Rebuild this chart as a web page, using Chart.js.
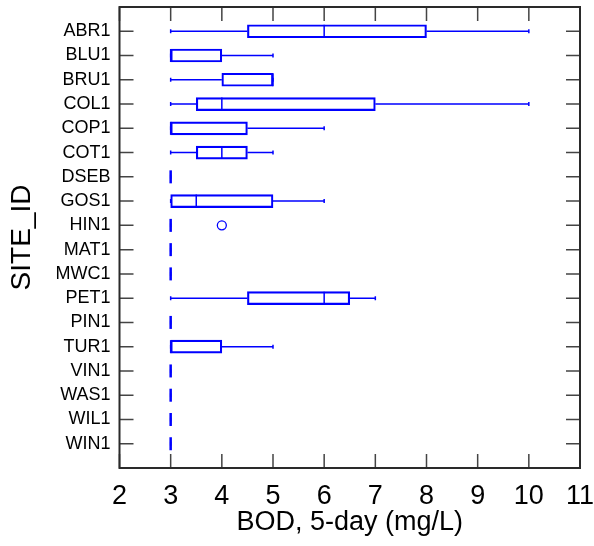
<!DOCTYPE html>
<html>
<head>
<meta charset="utf-8">
<script src="https://cdn.jsdelivr.net/npm/chart.js@4/dist/chart.umd.min.js"></script>
<style>
html,body{margin:0;padding:0;background:#fff;}
#wrap{width:594px;height:546px;position:relative;}
</style>
</head>
<body>
<div id="wrap"><canvas id="c" width="594" height="546"></canvas></div>
<script>
// ---- data ----
const sites = ['ABR1','BLU1','BRU1','COL1','COP1','COT1','DSEB','GOS1','HIN1','MAT1','MWC1','PET1','PIN1','TUR1','VIN1','WAS1','WIL1','WIN1'];
const whiskerLow  = [3,  3, 3, 3,   3,   3,   3, 3,   3, 3, 3, 3,   3, 3, 3, 3, 3, 3];
const q1Values    = [4.5,3, 4, 3.5, 3,   3.5, 3, 3,   3, 3, 3, 4.5, 3, 3, 3, 3, 3, 3];
const medians     = [6,  3, 5, 4,   3,   4,   3, 3.5, 3, 3, 3, 6,   3, 3, 3, 3, 3, 3];
const q3Values    = [8,  4, 5, 7,   4.5, 4.5, 3, 5,   3, 3, 3, 6.5, 3, 4, 3, 3, 3, 3];
const whiskerHigh = [10, 5, 5, 10,  6,   5,   3, 6,   3, 3, 3, 7,   3, 5, 3, 3, 3, 3];
const outlierSites  = ['HIN1'];
const outlierValues = [4];
const xTickValues = [2,3,4,5,6,7,8,9,10,11];

const BLUE = '#0000ff';
const FONT = "'Liberation Sans', Arial, sans-serif";

const boxData = sites.map((s,i)=>({y:i, x:[q1Values[i], q3Values[i]]}));
const outlierData = outlierSites.map((s,k)=>({y:sites.indexOf(s), x:outlierValues[k]}));

const boxPlugin = {
  id:'boxExtras',
  afterDatasetsDraw(chart){
    const ctx = chart.ctx, xs = chart.scales.x, ys = chart.scales.y;
    const half = 6.5, cap = 2;
    ctx.save();
    ctx.strokeStyle = BLUE;
    ctx.lineWidth = 1.5;
    sites.forEach((s,i)=>{
      const yc = ys.getPixelForValue(i);
      const xl = xs.getPixelForValue(whiskerLow[i]);
      const x1 = xs.getPixelForValue(q1Values[i]);
      const x3 = xs.getPixelForValue(q3Values[i]);
      const xh = xs.getPixelForValue(whiskerHigh[i]);
      const xm = xs.getPixelForValue(medians[i]);
      ctx.beginPath();
      if (x1 > xl) { ctx.moveTo(xl, yc); ctx.lineTo(x1, yc); }
      if (xh > x3) { ctx.moveTo(x3, yc); ctx.lineTo(xh, yc); }
      ctx.stroke();
      ctx.beginPath();
      ctx.moveTo(xl, yc-cap); ctx.lineTo(xl, yc+cap);
      ctx.moveTo(xh, yc-cap); ctx.lineTo(xh, yc+cap);
      ctx.stroke();
      ctx.beginPath();
      ctx.lineWidth = (x3 - x1 < 1) ? 2.5 : 1.5;
      ctx.moveTo(xm, yc-half); ctx.lineTo(xm, yc+half);
      ctx.stroke();
      ctx.lineWidth = 1.5;
    });
    ctx.restore();
  },
  afterDraw(chart){
    const ctx = chart.ctx, a = chart.chartArea, xs = chart.scales.x, ys = chart.scales.y;
    const tl = 14;
    ctx.save();
    ctx.strokeStyle = '#444';
    ctx.lineWidth = 1.5;
    ctx.beginPath();
    xs.ticks.forEach(t=>{
      const px = xs.getPixelForValue(t.value);
      ctx.moveTo(px, a.top); ctx.lineTo(px, a.top+tl);
      ctx.moveTo(px, a.bottom); ctx.lineTo(px, a.bottom-tl);
    });
    ys.ticks.forEach(t=>{
      const py = ys.getPixelForValue(t.value);
      ctx.moveTo(a.left, py); ctx.lineTo(a.left+tl, py);
      ctx.moveTo(a.right, py); ctx.lineTo(a.right-tl, py);
    });
    ctx.stroke();
    ctx.strokeStyle = '#2a2a2a';
    ctx.lineWidth = 2;
    ctx.strokeRect(a.left, a.top, a.right-a.left, a.bottom-a.top);
    ctx.restore();
  }
};

new Chart(document.getElementById('c'), {
  type:'bar',
  data:{
    datasets:[
      {type:'bar', data:boxData, backgroundColor:'rgba(0,0,0,0)', borderColor:BLUE, borderWidth:1.5, borderSkipped:false, barThickness:13},
      {type:'scatter', data:outlierData, pointRadius:4.5, pointBorderColor:BLUE, pointBackgroundColor:'rgba(0,0,0,0)', pointBorderWidth:1.3}
    ]
  },
  options:{
    indexAxis:'y',
    responsive:false,
    animation:false,
    devicePixelRatio:1,
    layout:{padding:{left:0, right:14, top:7, bottom:0}},
    plugins:{legend:{display:false}, tooltip:{enabled:false}},
    scales:{
      x:{
        type:'linear', min:2, max:11, offset:false,
        afterBuildTicks(s){ s.ticks = xTickValues.map(v=>({value:v})); },
        afterFit(s){ s.height = 78; s.paddingLeft = 0; s.paddingRight = 0; },
        grid:{display:false}, border:{display:false},
        ticks:{color:'#000', font:{family:FONT, size:27}, padding:4, maxRotation:0, autoSkip:false},
        title:{display:true, text:'BOD, 5-day (mg/L)', color:'#000', font:{family:FONT, size:27}, padding:{top:0, bottom:7}}
      },
      y:{
        type:'linear', min:-1, max:18, reverse:true, offset:false,
        afterBuildTicks(s){ s.ticks = sites.map((n,i)=>({value:i})); },
        afterFit(s){ s.width = 119.5; s.paddingTop = 0; s.paddingBottom = 0; },
        grid:{display:false}, border:{display:false},
        ticks:{color:'#000', font:{family:FONT, size:18}, padding:1, autoSkip:false, callback:(v)=>sites[v]},
        title:{display:true, text:'SITE_ID', color:'#000', font:{family:FONT, size:28}, padding:{top:5, bottom:0}}
      }
    }
  },
  plugins:[boxPlugin]
});
</script>
</body>
</html>
